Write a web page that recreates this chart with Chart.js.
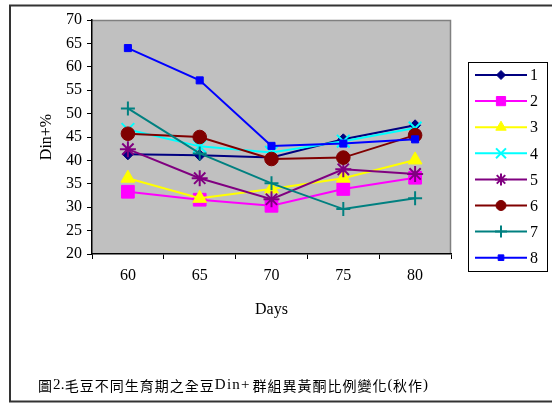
<!DOCTYPE html>
<html>
<head>
<meta charset="utf-8">
<script src="https://cdn.jsdelivr.net/npm/chart.js@4/dist/chart.umd.min.js"></script>
<style>
  html, body { margin: 0; padding: 0; background: #ffffff; }
  canvas { display: block; }
</style>
</head>
<body>
<canvas id="c" width="552" height="403"></canvas>
<script>
// Days after sowing
const days = ['60', '65', '70', '75', '80'];

// Din+ isoflavone ratio (%) per group
const g1 = [41.3, 41.1, 40.6, 44.5, 47.5];
const g2 = [33.3, 31.6, 30.3, 33.9, 36.3];
const g3 = [36.2, 31.9, 33.9, 36.2, 40.1];
const g4 = [46.6, 43.0, 41.7, 44.1, 46.9];
const g5 = [42.4, 36.2, 31.7, 38.1, 37.1];
const g6 = [45.7, 45.0, 40.3, 40.6, 45.4];
const g7 = [51.1, 41.5, 35.1, 29.6, 31.9];
const g8 = [64.0, 57.1, 43.1, 43.6, 44.5];

const groupNames = ['1', '2', '3', '4', '5', '6', '7', '8'];
const groupValues = [g1, g2, g3, g4, g5, g6, g7, g8];

const yMin = 20, yMax = 70, yStep = 5;

const yTitle = 'Din+%';
const xTitle = 'Days';
const captionParts = [
  ['圖', 'cjk'], ['2.', 'latin'], ['毛豆不同生育期之全豆', 'cjk'], ['Din+', 'latin'],
  ['群組異黃酮比例變化', 'cjk'], ['(', 'latin'], ['秋作', 'cjk'], [')', 'latin']
];

// marker look for each group
const styles = [
  { color: '#000080', point: 'rectRot', r: 5.5, lr: 4.5, bw: 1 },
  { color: '#FF00FF', point: 'rect', r: 9, lr: 6.5, bw: 1 },
  { color: '#FFFF00', point: 'triangle', r: 8, lr: 6, bw: 1 },
  { color: '#00FFFF', point: 'crossRot', r: 9, lr: 7, bw: 2 },
  { color: '#800080', point: 'star', r: 8, lr: 6, bw: 2 },
  { color: '#800000', point: 'circle', r: 6.8, lr: 5, bw: 1 },
  { color: '#008080', point: 'cross', r: 7, lr: 6, bw: 2 },
  { color: '#0000FF', point: 'rect', r: 5, lr: 4, bw: 1 }
];

const SERIF = '"Liberation Serif", "DejaVu Serif", serif';
const CJK = '"Noto Sans CJK TC", "Noto Sans CJK SC", sans-serif';

const datasets = groupValues.map((vals, i) => ({
  label: groupNames[i],
  data: vals,
  borderColor: styles[i].color,
  backgroundColor: styles[i].color,
  borderWidth: 2,
  pointStyle: styles[i].point,
  pointRadius: styles[i].r,
  pointHoverRadius: styles[i].r,
  pointBorderWidth: styles[i].bw,
  pointBorderColor: styles[i].color,
  pointBackgroundColor: styles[i].color,
  tension: 0,
  fill: false,
  clip: false,
  order: groupValues.length - i
}));

const framePlugin = {
  id: 'frame',
  beforeDraw(chart) {
    const ctx = chart.ctx;
    const a = chart.chartArea;
    ctx.save();
    ctx.fillStyle = '#ffffff';
    ctx.fillRect(0, 0, chart.width, chart.height);
    // outer frame
    ctx.strokeStyle = '#333333';
    ctx.lineWidth = 2;
    ctx.strokeRect(10, 5.5, chart.width + 10, 396);
    // plot area
    ctx.fillStyle = '#C0C0C0';
    ctx.fillRect(a.left, a.top, a.right - a.left, a.bottom - a.top);
    ctx.strokeStyle = '#808080';
    ctx.lineWidth = 1.5;
    ctx.beginPath();
    ctx.moveTo(a.left, a.top + 0.5);
    ctx.lineTo(a.right - 0.5, a.top + 0.5);
    ctx.lineTo(a.right - 0.5, a.bottom);
    ctx.stroke();
    ctx.restore();
  },
  afterDraw(chart) {
    const ctx = chart.ctx;
    ctx.save();
    // legend box
    const bx = 468, by = 62, bw = 79, bh = 209;
    ctx.fillStyle = '#ffffff';
    ctx.fillRect(bx, by, bw, bh);
    ctx.strokeStyle = '#000000';
    ctx.lineWidth = 1;
    ctx.strokeRect(bx + 0.5, by + 0.5, bw, bh);
    chart.data.datasets.forEach((ds, i) => {
      const st = styles[i];
      const y = 75 + i * 26.1;
      ctx.strokeStyle = st.color;
      ctx.fillStyle = st.color;
      ctx.lineWidth = 2;
      ctx.beginPath();
      ctx.moveTo(475, y);
      ctx.lineTo(527, y);
      ctx.stroke();
      ctx.lineWidth = st.bw;
      Chart.helpers.drawPoint(ctx, { pointStyle: st.point, radius: st.lr, rotation: 0, borderWidth: st.bw }, 501, y);
      ctx.fillStyle = '#000000';
      ctx.font = '16px ' + SERIF;
      ctx.textAlign = 'left';
      ctx.textBaseline = 'middle';
      ctx.fillText(ds.label, 530, y + 1);
    });
    // caption
    let x = 38;
    ctx.fillStyle = '#000000';
    ctx.textAlign = 'left';
    ctx.textBaseline = 'alphabetic';
    captionParts.forEach(([txt, kind]) => {
      for (const ch of txt) {
        if (kind === 'cjk') {
          ctx.font = '14px ' + CJK;
          ctx.fillText(ch, x, 390.5);
          x += 15;
        } else {
          ctx.font = '15px ' + SERIF;
          ctx.fillText(ch, x, 389);
          x += ctx.measureText(ch).width + (txt === 'Din+' ? 1.2 : 0.3);
        }
      }
      if (txt === 'Din+') x += 2;
    });
    ctx.restore();
  }
};

new Chart(document.getElementById('c'), {
  type: 'line',
  data: { labels: days, datasets },
  options: {
    responsive: false,
    animation: false,
    devicePixelRatio: 1,
    events: [],
    layout: { padding: { top: 20, right: 101, bottom: 83.4, left: 0 } },
    plugins: { legend: { display: false }, tooltip: { enabled: false }, title: { display: false } },
    scales: {
      x: {
        type: 'category',
        offset: true,
        grid: { display: true, offset: true, drawOnChartArea: false, drawTicks: true, tickLength: 5, color: '#000000', lineWidth: 1 },
        border: { display: true, color: '#000000', width: 1.5 },
        ticks: { color: '#000000', font: { family: SERIF, size: 16 }, padding: 7, maxRotation: 0, autoSkip: false },
        title: { display: true, text: xTitle, color: '#000000', font: { family: SERIF, size: 16 }, padding: { top: 0, bottom: 0 } },
        afterFit(scale) { scale.height = 65.6; }
      },
      y: {
        min: yMin,
        max: yMax,
        grid: { display: true, drawOnChartArea: false, drawTicks: true, tickLength: 5, color: '#000000', lineWidth: 1 },
        border: { display: true, color: '#000000', width: 1.5 },
        ticks: { stepSize: yStep, color: '#000000', font: { family: SERIF, size: 16 }, padding: 5 },
        title: { display: true, text: yTitle, color: '#000000', font: { family: SERIF, size: 16 }, padding: { top: 37.4, bottom: 0 } },
        afterFit(scale) { scale.width = 92; }
      }
    }
  },
  plugins: [framePlugin]
});
</script>
</body>
</html>
